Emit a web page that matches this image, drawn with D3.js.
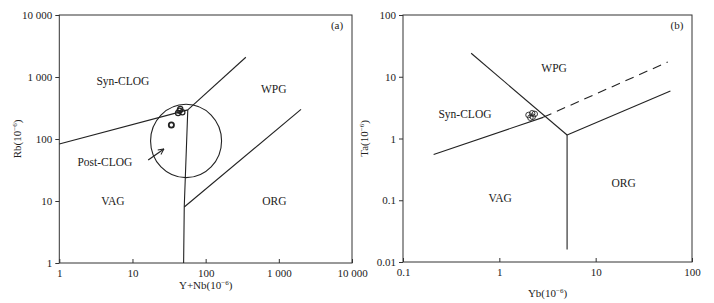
<!doctype html>
<html>
<head>
    <meta charset="utf-8">
    <title>Rb - Y+Nb / Ta - Yb</title>
    <script src="https://d3js.org/d3.v7.min.js"></script>
    <style type="text/css">
        html, body { margin: 0; background: #fff; }
        svg text { font-family: "Liberation Serif", "DejaVu Serif", serif; fill: #222; }
    </style>
</head>
<body>
<svg id="chart" width="714" height="303"></svg>
<script type="text/javascript">
    // (a) Rb vs Y+Nb
    var aTicks = [1, 10, 100, 1000, 10000];
    var aTickLabels = ['1', '10', '100', '1 000', '10 000'];
    var aYNb = [45, 48, 42, 44, 34];
    var aRb  = [305, 270, 262, 285, 168];
    var aBounds = [
        [[1, 83], [57, 295]],
        [[57, 295], [354, 2080]],
        [[50, 1], [51, 8], [57, 295]],
        [[51, 8], [2010, 300]]
    ];
    var aZones = [
        {name: 'Syn-CLOG', x: 7.4, y: 850},
        {name: 'WPG', x: 850, y: 650},
        {name: 'Post-CLOG', x: 4.2, y: 42},
        {name: 'VAG', x: 5.4, y: 10},
        {name: 'ORG', x: 870, y: 10}
    ];

    // (b) Ta vs Yb
    var bXTicks = [0.1, 1, 10, 100];
    var bXLabels = ['0.1', '1', '10', '100'];
    var bYTicks = [0.01, 0.1, 1, 10, 100];
    var bYLabels = ['0.01', '0.1', '1', '10', '100'];
    var bYb = [2.01, 2.19, 2.33, 2.1, 2.22];
    var bTa = [2.4, 2.56, 2.5, 2.17, 2.25];
    var bBounds = [
        [[0.51, 24], [5.05, 1.14]],
        [[5.05, 1.14], [5.05, 0.016]],
        [[5.05, 1.14], [59.7, 5.9]],
        [[0.208, 0.55], [2.85, 2.2]]
    ];
    var bDashed = [[2.85, 2.2], [56, 17.3]];
    var bZones = [
        {name: 'WPG', x: 3.7, y: 14},
        {name: 'Syn-CLOG', x: 0.44, y: 2.45},
        {name: 'VAG', x: 1.02, y: 0.11},
        {name: 'ORG', x: 19.5, y: 0.19}
    ];

    var svg = d3.select('#chart');
    var ink = '#222';

    svg.append('defs').append('marker')
        .attr('id', 'arr')
        .attr('viewBox', '0 0 10 10')
        .attr('refX', 9).attr('refY', 5)
        .attr('markerWidth', 7).attr('markerHeight', 7)
        .attr('markerUnits', 'userSpaceOnUse')
        .attr('orient', 'auto')
        .append('path')
        .attr('d', 'M1,1 L9,5 L1,9')
        .attr('fill', 'none').attr('stroke', ink).attr('stroke-width', 1.4);

    function supLabel(g, base, x, y, rotate) {
        var t = g.append('text')
            .attr('text-anchor', 'middle')
            .attr('font-size', 11);
        if (rotate) t.attr('transform', 'translate(' + x + ',' + y + ') rotate(-90)');
        else t.attr('x', x).attr('y', y);
        t.append('tspan').text(base + '(10');
        t.append('tspan').attr('font-size', 7).attr('dy', -4).text('\u22126');
        t.append('tspan').attr('dy', 4).text(')');
    }

    function panel(p) {
        var g = svg.append('g');
        var x = p.x, y = p.y;
        var x0 = x.range()[0], x1 = x.range()[1];
        var y0 = y.range()[1], y1 = y.range()[0];

        g.append('rect')
            .attr('x', x0).attr('y', y0)
            .attr('width', x1 - x0).attr('height', y1 - y0)
            .attr('fill', 'none').attr('stroke', '#333').attr('stroke-width', 1);

        // x ticks point inward, y ticks outward
        g.append('g').attr('transform', 'translate(0,' + y1 + ')')
            .call(d3.axisBottom(x).tickValues(p.xTicks)
                .tickFormat(function(d, i) { return p.xLabels[i]; })
                .tickSizeInner(-4).tickSizeOuter(0).tickPadding(6))
            .call(function(s) {
                s.select('.domain').remove();
                s.selectAll('line').attr('stroke', '#333');
                s.selectAll('text').attr('font-size', 11).attr('font-family', null).attr('fill', ink);
            });
        g.append('g').attr('transform', 'translate(' + x0 + ',0)')
            .call(d3.axisLeft(y).tickValues(p.yTicks)
                .tickFormat(function(d, i) { return p.yLabels[i]; })
                .tickSizeInner(4).tickSizeOuter(0).tickPadding(3))
            .call(function(s) {
                s.select('.domain').remove();
                s.selectAll('line').attr('stroke', '#333');
                s.selectAll('text').attr('font-size', 11).attr('font-family', null).attr('fill', ink);
            });

        var line = d3.line().x(function(d) { return x(d[0]); }).y(function(d) { return y(d[1]); });
        g.selectAll('path.bound').data(p.bounds).enter().append('path')
            .attr('class', 'bound')
            .attr('d', line)
            .attr('fill', 'none').attr('stroke', ink).attr('stroke-width', 1.1);

        g.selectAll('text.zone').data(p.zones).enter().append('text')
            .attr('class', 'zone')
            .attr('x', function(d) { return x(d.x); })
            .attr('y', function(d) { return y(d.y); })
            .attr('dy', '0.35em')
            .attr('text-anchor', 'middle')
            .attr('font-size', 11.5)
            .text(function(d) { return d.name; });

        g.append('text')
            .attr('x', x1 - 15).attr('y', y0 + 14)
            .attr('text-anchor', 'middle').attr('font-size', 11)
            .text(p.tag);

        supLabel(g, p.yName, p.yLabelX, (y0 + y1) / 2, true);
        supLabel(g, p.xName, (x0 + x1) / 2, p.xLabelY, false);

        return {g: g, x: x, y: y, line: line};
    }

    // ---- panel (a)
    var ax = d3.scaleLog().domain([1, 10000]).range([59.3, 352]);
    var ay = d3.scaleLog().domain([1, 10000]).range([263, 15]);
    var pa = panel({
        x: ax, y: ay, xTicks: aTicks, xLabels: aTickLabels, yTicks: aTicks, yLabels: aTickLabels,
        bounds: aBounds, zones: aZones, tag: '(a)', yName: 'Rb', xName: 'Y+Nb', yLabelX: 21, xLabelY: 289
    });

    // post-collision ellipse
    var cX = 54, cY = 93;
    pa.g.append('ellipse')
        .attr('cx', ax(cX)).attr('cy', ay(cY))
        .attr('rx', ax(165) - ax(cX)).attr('ry', ay(cY) - ay(363))
        .attr('fill', 'none').attr('stroke', ink).attr('stroke-width', 1.1);

    pa.g.append('path')
        .attr('d', pa.line([[16.4, 45.8], [26.9, 69]]))
        .attr('fill', 'none').attr('stroke', ink).attr('stroke-width', 1.2)
        .attr('marker-end', 'url(#arr)');

    pa.g.selectAll('circle.pt').data(aYNb).enter().append('circle')
        .attr('class', 'pt')
        .attr('cx', function(d) { return ax(d); })
        .attr('cy', function(d, i) { return ay(aRb[i]); })
        .attr('r', 2.6)
        .attr('fill', 'none').attr('stroke', ink)
        .attr('stroke-width', function(d, i) { return i === 4 ? 1.8 : 1.2; });

    // ---- panel (b)
    var bx = d3.scaleLog().domain([0.1, 100]).range([403, 692]);
    var by = d3.scaleLog().domain([0.01, 100]).range([262, 15]);
    var pb = panel({
        x: bx, y: by, xTicks: bXTicks, xLabels: bXLabels, yTicks: bYTicks, yLabels: bYLabels,
        bounds: bBounds, zones: bZones, tag: '(b)', yName: 'Ta', xName: 'Yb', yLabelX: 368, xLabelY: 297
    });

    pb.g.append('path')
        .attr('d', pb.line(bDashed))
        .attr('fill', 'none').attr('stroke', ink).attr('stroke-width', 1.1)
        .attr('stroke-dasharray', '9,6');

    pb.g.selectAll('circle.pt').data(bYb).enter().append('circle')
        .attr('class', 'pt')
        .attr('cx', function(d) { return bx(d); })
        .attr('cy', function(d, i) { return by(bTa[i]); })
        .attr('r', 2.8)
        .attr('fill', 'none').attr('stroke', ink).attr('stroke-width', 0.9);
</script>
</body>
</html>
